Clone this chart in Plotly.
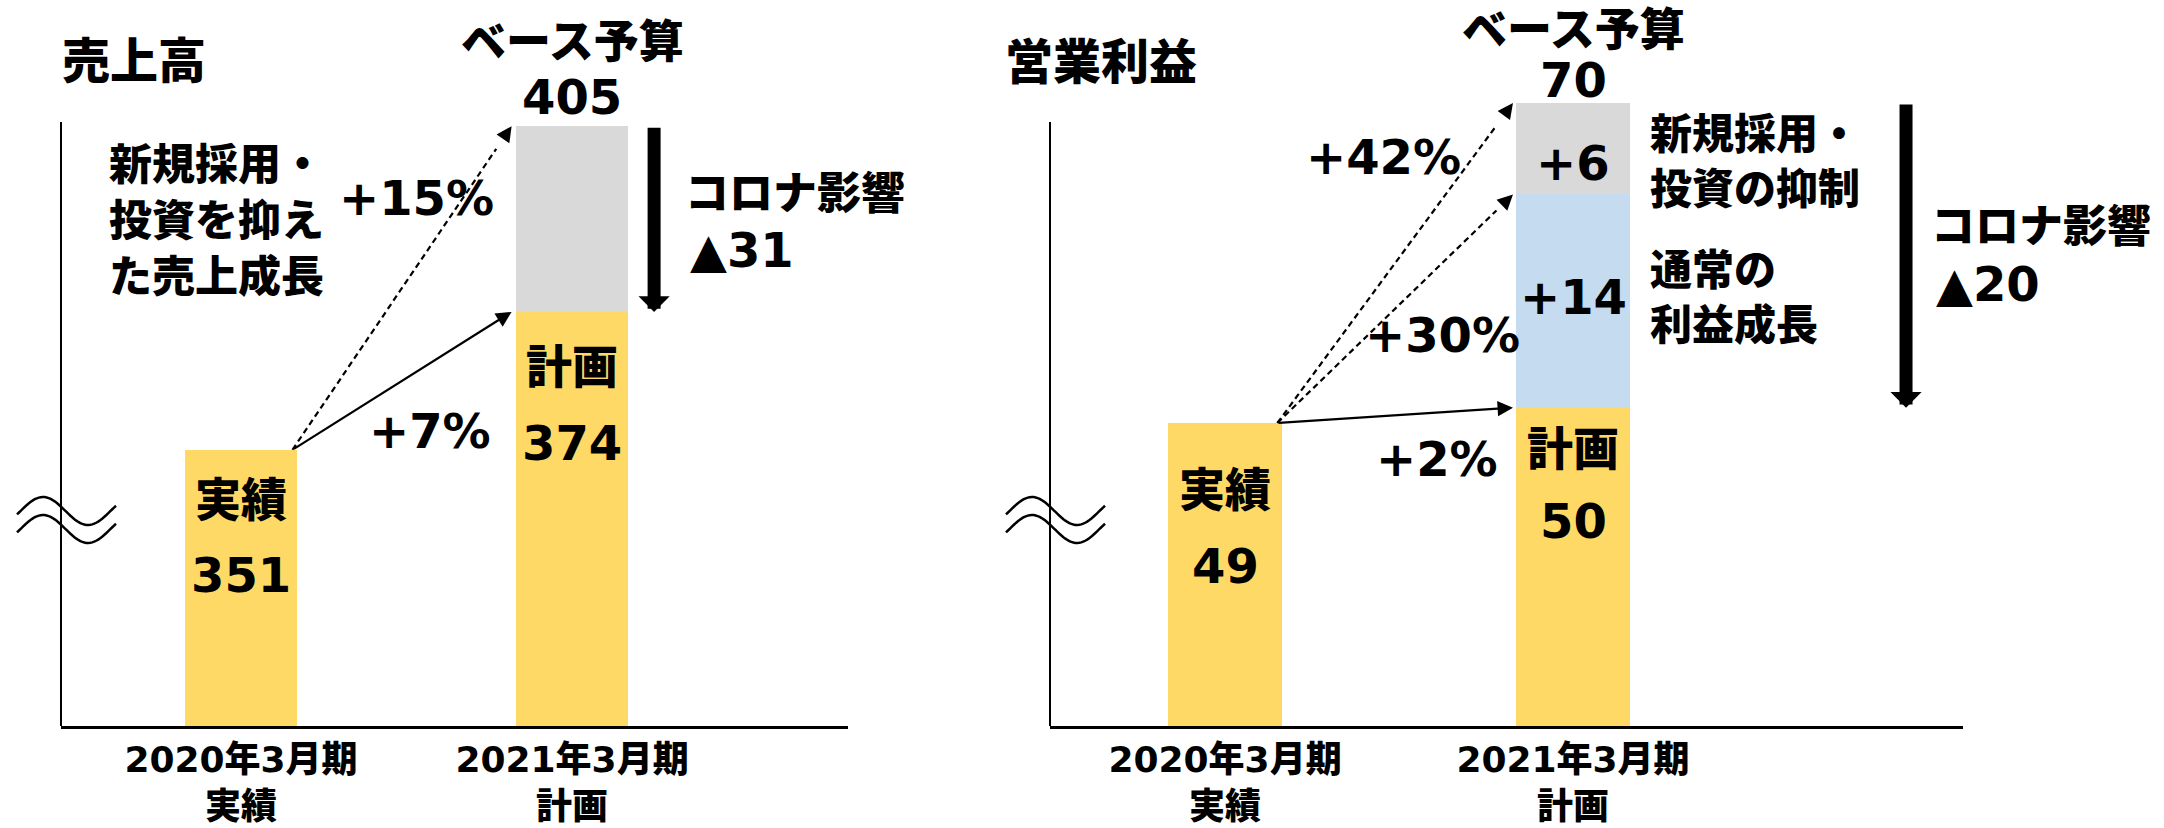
import math
import plotly.graph_objects as go

W, H = 2164, 828

# ---------------- data ----------------
periods = ["2020年3月期<br>実績", "2021年3月期<br>計画"]
bar_names = ["実績", "計画"]

sales_vals = [351, 374]          # 2020 actual, 2021 plan
sales_base_budget = 405          # ベース予算
sales_covid = 31                 # コロナ影響 ▲31
sales_growth = ["+7%", "+15%"]   # vs plan, vs base budget
sales_note = ["新規採用・", "投資を抑え", "た売上成長"]

profit_vals = [49, 50]           # 2020 actual, 2021 plan
profit_normal = 14               # 通常の利益成長 +14
profit_restraint = 6             # 新規採用・投資の抑制 +6
profit_base_budget = 70          # ベース予算
profit_covid = 20                # コロナ影響 ▲20
profit_growth = ["+2%", "+30%", "+42%"]
profit_note1 = ["新規採用・", "投資の抑制"]
profit_note2 = ["通常の", "利益成長"]

YELLOW = "#FFD966"
GRAY = "#D9D9D9"
BLUE = "#C5DCF0"
FONT = "DejaVu Sans, Noto Sans CJK JP, sans-serif"
WEIGHT = 900


def px(x):
    return x / W


def py(y):
    return 1 - y / H


# layout geometry (pixels)
Y_BOTTOM, Y_TOP = 726, 95
L_X0, L_X1 = 61, 848
R_X0, R_X1 = 1050, 1963
BW_L = 0.341
BW_R = 0.325

fig = go.Figure()

# ---- left chart: 売上高 ----
fig.add_trace(go.Bar(x=[0, 1], y=sales_vals, base=0, width=BW_L,
                     marker=dict(color=YELLOW, line=dict(width=0)),
                     xaxis="x", yaxis="y", hoverinfo="skip"))
fig.add_trace(go.Bar(x=[1], y=[sales_base_budget - sales_vals[1]], base=[sales_vals[1]],
                     width=BW_L, marker=dict(color=GRAY, line=dict(width=0)),
                     xaxis="x", yaxis="y", hoverinfo="skip"))

# ---- right chart: 営業利益 ----
fig.add_trace(go.Bar(x=[0, 1], y=profit_vals, base=0, width=BW_R,
                     marker=dict(color=YELLOW, line=dict(width=0)),
                     xaxis="x2", yaxis="y2", hoverinfo="skip"))
fig.add_trace(go.Bar(x=[1], y=[profit_normal], base=[profit_vals[1]], width=BW_R,
                     marker=dict(color=BLUE, line=dict(width=0)),
                     xaxis="x2", yaxis="y2", hoverinfo="skip"))
fig.add_trace(go.Bar(x=[1], y=[profit_restraint], base=[profit_vals[1] + profit_normal],
                     width=BW_R, marker=dict(color=GRAY, line=dict(width=0)),
                     xaxis="x2", yaxis="y2", hoverinfo="skip"))

shapes = []
annotations = []


def text(t, x, y, size, xanchor="center", align="center"):
    annotations.append(dict(
        text=t, x=px(x), y=py(y), xref="paper", yref="paper",
        xanchor=xanchor, yanchor="middle", align=align, showarrow=False,
        font=dict(family=FONT, size=size, color="black", weight=WEIGHT)))


def bar_text(t, xval, y, size, xref):
    annotations.append(dict(
        text=t, x=xval, y=py(y), xref=xref, yref="paper",
        xanchor="center", yanchor="middle", showarrow=False,
        font=dict(family=FONT, size=size, color="black", weight=WEIGHT)))


def arrow(xref, yref, x0, y0, x1, y1, dashed):
    if dashed:
        f = 0.93
        shapes.append(dict(type="line", xref=xref, yref=yref,
                           x0=x0, y0=y0, x1=x0 + (x1 - x0) * f, y1=y0 + (y1 - y0) * f,
                           line=dict(color="black", width=2.2, dash="6px,4px")))
        g = 0.96
        ax, ay = x0 + (x1 - x0) * g, y0 + (y1 - y0) * g
    else:
        ax, ay = x0, y0
    annotations.append(dict(text="", x=x1, y=y1, xref=xref, yref=yref,
                            ax=ax, ay=ay, axref=xref, ayref=yref,
                            showarrow=True, arrowhead=2, arrowsize=1.4,
                            arrowwidth=2.2, arrowcolor="black", standoff=0, startstandoff=0))


def big_arrow(xref, yref, xval, ytop, ybottom):
    annotations.append(dict(text="", x=xval, y=ybottom, xref=xref, yref=yref,
                            ax=xval, ay=ytop, axref=xref, ayref=yref,
                            showarrow=True, arrowhead=1, arrowsize=0.4,
                            arrowwidth=13, arrowcolor="black", standoff=0, startstandoff=0))


# arrows left
sx = BW_L / 2 - 0.015
ex = 1 - BW_L / 2 - 0.012
arrow("x", "y", sx, sales_vals[0], ex, sales_base_budget, True)
arrow("x", "y", sx, sales_vals[0], ex, sales_vals[1], False)
big_arrow("x", "y", 1.248, sales_base_budget, sales_vals[1])

# arrows right
sx2 = BW_R / 2 - 0.012
ex2 = 1 - BW_R / 2 - 0.01
arrow("x2", "y2", sx2, profit_vals[0], ex2, profit_base_budget, True)
arrow("x2", "y2", sx2, profit_vals[0], ex2, profit_vals[1] + profit_normal, True)
arrow("x2", "y2", sx2, profit_vals[0], ex2, profit_vals[1], False)
big_arrow("x2", "y2", 1.957, profit_base_budget, profit_vals[1])

# y-axis lines (shapes)
for x0 in (L_X0, R_X0):
    shapes.append(dict(type="line", xref="paper", yref="paper",
                       x0=px(x0), x1=px(x0), y0=py(Y_BOTTOM), y1=py(122),
                       line=dict(color="black", width=2)))


# axis break symbols
def wave_path(x_axis, dy):
    pts = []
    for i in range(0, 51):
        x = x_axis - 44 + i * 99 / 50
        y = 511 + dy - 14 * math.cos(2 * math.pi * (x - (x_axis - 18)) / 90)
        pts.append((px(x), py(y)))
    return "M " + " L ".join(f"{a:.5f},{b:.5f}" for a, b in pts)


for xa in (L_X0, R_X0):
    for dy in (0, 18):
        shapes.append(dict(type="path", xref="paper", yref="paper", path=wave_path(xa, dy),
                           line=dict(color="black", width=2.5)))

# ---- texts left ----
text("売上高", 60, 61, 48, xanchor="left")
text("ベース予算", 572, 42, 45)
text(str(sales_base_budget), 572, 97, 48)
text("<br>".join(sales_note), 107, 221, 43, xanchor="left", align="left")
text(sales_growth[1], 416, 198, 48)
text(sales_growth[0], 430, 431, 48)
text("コロナ影響", 683, 193, 44, xanchor="left")
text("▲" + str(sales_covid), 688, 250, 48, xanchor="left")
bar_text(bar_names[1], 1, 367, 46, "x")
bar_text(str(sales_vals[1]), 1, 443, 48, "x")
bar_text(bar_names[0], 0, 500, 46, "x")
bar_text(str(sales_vals[0]), 0, 575, 48, "x")

# ---- texts right ----
text("営業利益", 1003, 62, 48, xanchor="left")
text("ベース予算", 1573, 30, 45)
text(str(profit_base_budget), 1573, 80, 48)
text(profit_growth[2], 1383, 157, 48)
text(profit_growth[1], 1443, 335, 48)
text(profit_growth[0], 1437, 459, 48)
bar_text("+" + str(profit_restraint), 1, 163, 48, "x2")
bar_text("+" + str(profit_normal), 1, 297, 48, "x2")
bar_text(bar_names[1], 1, 449, 46, "x2")
bar_text(str(profit_vals[1]), 1, 521, 48, "x2")
bar_text(bar_names[0], 0, 490, 46, "x2")
bar_text(str(profit_vals[0]), 0, 566, 48, "x2")
text("<br>".join(profit_note1), 1648, 162, 42, xanchor="left", align="left")
text("<br>".join(profit_note2), 1648, 298, 42, xanchor="left", align="left")
text("コロナ影響", 1929, 226, 44, xanchor="left")
text("▲" + str(profit_covid), 1934, 284, 48, xanchor="left")

# axis ranges derived from pixel layout
y_dom = [py(Y_BOTTOM), py(Y_TOP)]
xaxis_common = dict(showgrid=False, zeroline=False, showline=True, linecolor="black",
                    linewidth=2.5, ticks="", tickvals=[0, 1], ticktext=periods,
                    tickfont=dict(family=FONT, size=36, color="black", weight=WEIGHT),
                    fixedrange=True)
yaxis_common = dict(showgrid=False, zeroline=False, showline=False, showticklabels=False,
                    ticks="", fixedrange=True)

fig.update_layout(
    width=W, height=H,
    margin=dict(l=0, r=0, t=0, b=0),
    paper_bgcolor="white", plot_bgcolor="rgba(0,0,0,0)",
    showlegend=False, barmode="overlay", bargap=0,
    xaxis=dict(domain=[px(L_X0), px(L_X1)], range=[-0.5438, 1.8338], anchor="y", **xaxis_common),
    yaxis=dict(domain=y_dom, range=[304.9, 410.2], anchor="x", **yaxis_common),
    xaxis2=dict(domain=[px(R_X0), px(R_X1)], range=[-0.5029, 2.1207], anchor="y2", **xaxis_common),
    yaxis2=dict(domain=y_dom, range=[29.1, 70.53], anchor="x2", **yaxis_common),
    shapes=shapes,
    annotations=annotations,
)

fig.write_html("out.html", config={"displayModeBar": False},
               post_script="document.body.style.margin='0';")
